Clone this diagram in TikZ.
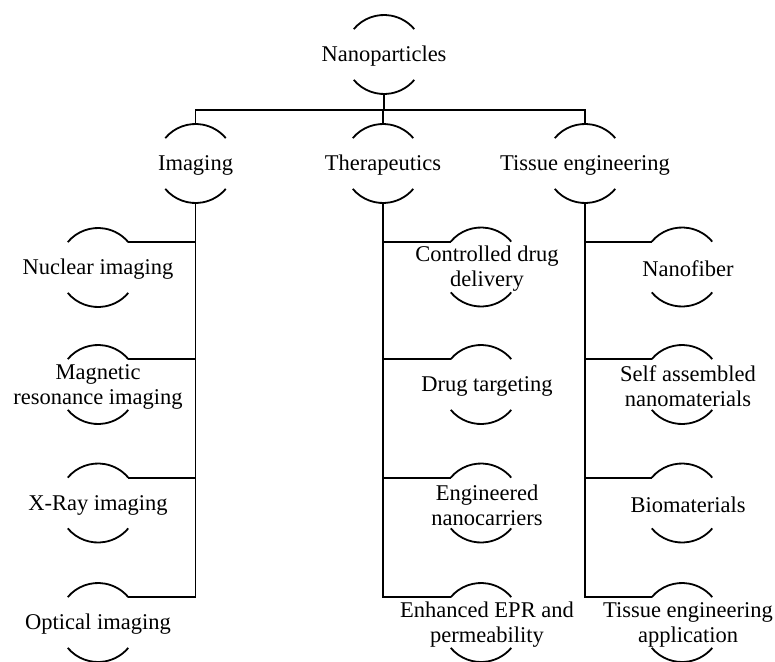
\documentclass[tikz,border=0pt]{standalone}
\usepackage{fontspec}
\setmainfont{Liberation Serif}[Extension=.ttf,UprightFont=LiberationSerif-Regular,BoldFont=LiberationSerif-Bold]
\newfontfamily\tnr{Liberation Serif}
\begin{document}
\begin{tikzpicture}[x=1pt,y=1pt,line width=1.8pt,
  ring/.style={circle,minimum size=79pt,inner sep=0pt,outer sep=0pt},
  lbl/.style={font=\tnr\fontsize{22.5}{25}\selectfont,align=center,inner sep=0pt,yshift=-2pt},
  rl/.style={lbl,xshift=6pt}]
\useasboundingbox (0,0) rectangle (775,-661);
\clip (0,0) rectangle (775,-661);
% root
\node[ring,label={[lbl]center:Nanoparticles}] (np) at (384,-54.5) {};
% level 1
\node[ring,label={[lbl]center:Imaging}] (img) at (195.5,-163.5) {};
\node[ring,label={[lbl]center:Therapeutics}] (thr) at (383,-163.5) {};
\node[ring,label={[lbl]center:Tissue engineering}] (tis) at (585,-163.5) {};
% imaging leaves
\node[ring,label={[lbl]center:Nuclear imaging}] (nuc) at (98,-267.5) {};
\node[ring,label={[lbl]center:{Magnetic\\resonance imaging}}] (mri) at (98,-384.5) {};
\node[ring,label={[lbl]center:X-Ray imaging}] (xray) at (98,-503) {};
\node[ring,label={[lbl]center:Optical imaging}] (opt) at (98,-622.5) {};
% therapeutics leaves
\node[ring,label={[rl]center:{Controlled drug\\delivery}}] (cdd) at (481,-267) {};
\node[ring,label={[rl]center:Drug targeting}] (dt) at (481,-384.5) {};
\node[ring,label={[rl]center:{Engineered\\nanocarriers}}] (enc) at (481,-503) {};
\node[ring,label={[rl]center:{Enhanced EPR and\\permeability}}] (epr) at (481,-622.5) {};
% tissue engineering leaves
\node[ring,label={[rl]center:Nanofiber}] (nf) at (682,-267) {};
\node[ring,label={[rl]center:{Self assembled\\nanomaterials}}] (sam) at (682,-384.5) {};
\node[ring,label={[rl]center:Biomaterials}] (bio) at (682,-503) {};
\node[ring,label={[rl]center:{Tissue engineering\\application}}] (tea) at (682,-622.5) {};
% arcs
\foreach \n in {np,img,thr,tis,nuc,mri,xray,opt,cdd,dt,enc,epr,nf,sam,bio,tea}{
  \draw (\n.140) arc[start angle=140,end angle=40,radius=39.5pt];
  \draw (\n.220) arc[start angle=220,end angle=320,radius=39.5pt];
}
% connectors
\coordinate (bar) at (0,-110);
\draw (np.south) -- (np.south |- bar);
\draw (img.north) -- (img.north |- bar) -- (tis.north |- bar) -- (tis.north);
\draw (thr.north) -- (thr.north |- bar);
\draw (img.south) |- (opt.40);
\foreach \n in {nuc,mri,xray} \draw (\n.40) -- (\n.40 -| img.south);
\draw (thr.south) |- (epr.140);
\foreach \n in {cdd,dt,enc} \draw (\n.140) -- (\n.140 -| thr.south);
\draw (tis.south) |- (tea.140);
\foreach \n in {nf,sam,bio} \draw (\n.140) -- (\n.140 -| tis.south);
\end{tikzpicture}
\end{document}
